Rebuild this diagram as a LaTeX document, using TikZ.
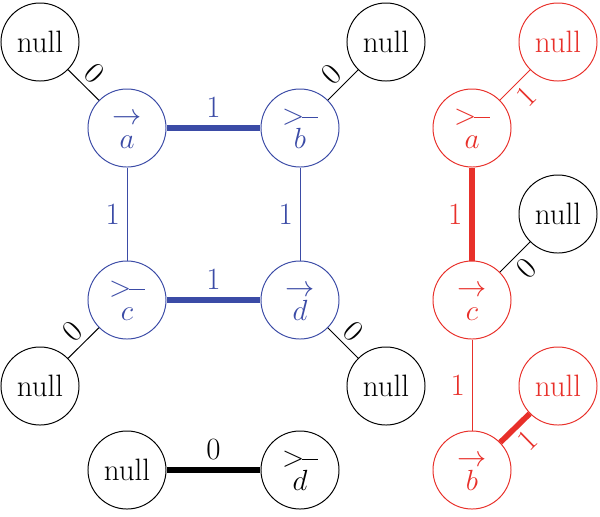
\documentclass[tikz,border=0pt]{standalone}
\usepackage{amsmath}
\definecolor{EdgeBlue}{HTML}{3B4BA6}
\definecolor{EdgeRed}{HTML}{E8302A}
\newcommand{\fwd}[1]{\rule{0pt}{0.55em}$\rightarrow$\\$#1$}
\newcommand{\bwd}[1]{\rule{0pt}{0.55em}$>$\kern-0.06em\rule[0.235em]{0.5em}{0.03em}\\$#1$}

\begin{document}
\begin{tikzpicture}[x=0.025cm, y=-0.025cm,
      vtx/.style={circle, draw, minimum size=1.95cm, inner sep=0pt,
                  line width=0.7pt, align=center,
                  font=\fontsize{22}{16.5}\selectfont},
      bluevtx/.style={vtx, draw=EdgeBlue, text=EdgeBlue},
      redvtx/.style={vtx, draw=EdgeRed, text=EdgeRed},
      lightedge/.style={line width=0.7pt},
      heavyedge/.style={line width=4pt},
      wt/.style={font=\fontsize{22}{26}\selectfont}]

      \useasboundingbox (0,0) rectangle (600,516);

      % left graph
      \node[bluevtx] (a) at (127,128) {\fwd{a}};
      \node[bluevtx] (b) at (300,128) {\bwd{b}};
      \node[bluevtx] (c) at (127,300) {\bwd{c}};
      \node[bluevtx] (d) at (300,300) {\fwd{d}};

      \node[vtx] (na) at ( 40, 42) {null};
      \node[vtx] (nb) at (386, 42) {null};
      \node[vtx] (nc) at ( 40,386) {null};
      \node[vtx] (nd) at (386,386) {null};

      \draw[lightedge] (na) -- node[wt, sloped, above] {0} (a);
      \draw[lightedge] (b) -- node[wt, sloped, above] {0} (nb);
      \draw[lightedge] (c) -- node[wt, sloped, above] {0} (nc);
      \draw[lightedge] (d) -- node[wt, sloped, above] {0} (nd);

      \draw[heavyedge, EdgeBlue] (a) -- node[wt, above=2pt] {1} (b);
      \draw[heavyedge, EdgeBlue] (c) -- node[wt, above=2pt] {1} (d);
      \draw[lightedge, EdgeBlue] (a) -- node[wt, left=1.5pt] {1} (c);
      \draw[lightedge, EdgeBlue] (b) -- node[wt, left=1.5pt] {1} (d);

      % single pair
      \node[vtx] (nn) at (127,470) {null};
      \node[vtx] (dd) at (300,470) {\bwd{d}};
      \draw[heavyedge] (nn) -- node[wt, above=2pt] {0} (dd);

      % right path
      \node[redvtx] (ra) at (472,128) {\bwd{a}};
      \node[redvtx] (rc) at (472,300) {\fwd{c}};
      \node[redvtx] (rb) at (472,470) {\fwd{b}};

      \node[redvtx] (rna) at (558, 42) {null};
      \node[vtx]    (rnc) at (558,214) {null};
      \node[redvtx] (rnb) at (558,386) {null};

      \draw[lightedge, EdgeRed] (ra) -- node[wt, sloped, below] {1} (rna);
      \draw[heavyedge, EdgeRed] (ra) -- node[wt, left=1.5pt] {1} (rc);
      \draw[lightedge] (rc) -- node[wt, sloped, below] {0} (rnc);
      \draw[lightedge, EdgeRed] (rc) -- node[wt, left=1.5pt] {1} (rb);
      \draw[heavyedge, EdgeRed] (rb) -- node[wt, sloped, below] {1} (rnb);
\end{tikzpicture}
\end{document}
